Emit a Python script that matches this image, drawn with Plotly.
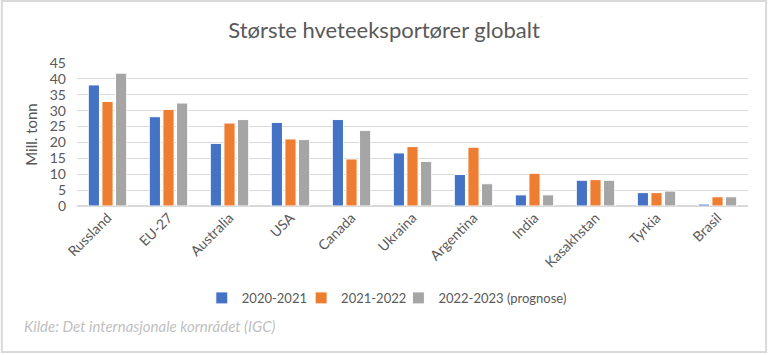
import plotly.graph_objects as go

categories = ["Russland", "EU-27", "Australia", "USA", "Canada", "Ukraina",
              "Argentina", "India", "Kasakhstan", "Tyrkia", "Brasil"]
s2020 = [38.1, 28.1, 19.7, 26.3, 27.2, 16.7, 9.9, 3.5, 8.1, 4.2, 0.6]
s2021 = [32.9, 30.4, 26.1, 21.1, 14.8, 18.7, 18.5, 10.3, 8.3, 4.2, 2.9]
s2022 = [41.8, 32.4, 27.2, 20.9, 23.8, 14.0, 7.0, 3.5, 8.1, 4.7, 2.9]
series_names = ["2020-2021", "2021-2022", "2022-2023 (prognose)"]
colors = ["#4472C4", "#ED7D31", "#A5A5A5"]
y_ticks = [0, 5, 10, 15, 20, 25, 30, 35, 40, 45]

FONT = "Lato, Open Sans, sans-serif"
TXT = "#595959"

legend_ids = ["legend", "legend2", "legend3"]
legend_x = [0.186, 0.334, 0.479]

fig = go.Figure()
for name, vals, c, lg in zip(series_names, [s2020, s2021, s2022], colors, legend_ids):
    fig.add_trace(go.Bar(x=categories, y=vals, name=name, legend=lg,
                         marker=dict(color=c, line=dict(color="white", width=1))))

legend_common = dict(orientation="h", y=-0.643, yanchor="middle", xanchor="left",
                     font=dict(size=13, color=TXT), itemwidth=30,
                     bgcolor="rgba(0,0,0,0)")

fig.update_layout(
    width=768, height=355,
    margin=dict(l=77, r=20, t=63, b=149),
    paper_bgcolor="white", plot_bgcolor="white",
    font=dict(family=FONT, color=TXT, size=13),
    title=dict(text="Største hveteeksportører globalt", x=0.5, xanchor="center",
               y=0.915, yanchor="middle", font=dict(size=22, color=TXT, family=FONT)),
    barmode="group", bargap=0.33, bargroupgap=0.18,
    showlegend=True,
    legend=dict(x=legend_x[0], **legend_common),
    legend2=dict(x=legend_x[1], **legend_common),
    legend3=dict(x=legend_x[2], **legend_common),
    xaxis=dict(tickangle=-45, showgrid=False, showline=False, ticks="", automargin=False,
               tickfont=dict(size=14, color=TXT)),
    yaxis=dict(range=[0, 45], tickvals=y_ticks, showgrid=True, gridcolor="#D9D9D9",
               gridwidth=1, zeroline=True, zerolinecolor="#D9D9D9", ticks="",
               automargin=False, ticklabelstandoff=10,
               tickfont=dict(size=14, color=TXT),
               title=dict(text="Mill. tonn", font=dict(size=15, color=TXT), standoff=8)),
    shapes=[dict(type="rect", xref="paper", yref="paper", x0=-0.112, x1=1.027, y0=-1.021, y1=1.434,
                 line=dict(color="#D9D9D9", width=2))],
    annotations=[dict(text="<i>Kilde: Det internasjonale kornrådet (IGC)</i>", xref="paper",
                      yref="paper", x=-0.082, y=-0.839, xanchor="left", yanchor="middle",
                      showarrow=False, font=dict(size=15, color="#BFBFBF"))],
)

fig.write_html("out.html", config={"displayModeBar": False},
               post_script="document.body.style.margin='0';")
